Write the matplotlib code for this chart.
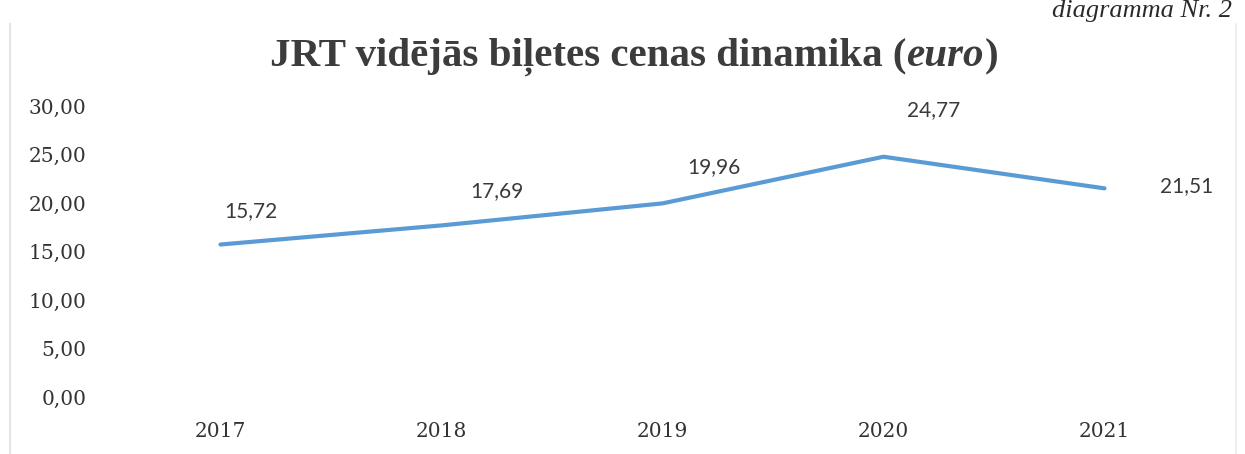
import matplotlib
matplotlib.use("Agg")
import matplotlib.pyplot as plt
from matplotlib.lines import Line2D

years = ["2017", "2018", "2019", "2020", "2021"]
prices = [15.72, 17.69, 19.96, 24.77, 21.51]
labels = ["15,72", "17,69", "19,96", "24,77", "21,51"]
yticks = [0, 5, 10, 15, 20, 25, 30]
ytick_labels = ["0,00", "5,00", "10,00", "15,00", "20,00", "25,00", "30,00"]

W, H = 1245, 454
fig = plt.figure(figsize=(W / 100, H / 100), dpi=100)
ax = fig.add_axes([110 / W, 1 - 397 / H, 1105 / W, (397 - 106) / H])

x = list(range(len(years)))
ax.plot(x, prices, color="#5B9BD5", linewidth=3.0, solid_capstyle="round", solid_joinstyle="round")
ax.set_xlim(-0.5, len(years) - 0.5)
ax.set_ylim(0, 30)
ax.set_xticks(x)
ax.set_xticklabels(years)
ax.set_yticks(yticks)
ax.set_yticklabels(ytick_labels)
for s in ax.spines.values():
    s.set_visible(False)
ax.tick_params(axis="both", length=0, colors="#3a3a3a")
ax.tick_params(axis="y", pad=17)
ax.tick_params(axis="x", pad=18)
for t in ax.get_xticklabels() + ax.get_yticklabels():
    t.set_fontfamily("DejaVu Serif")
    t.set_fontsize(14.5)
    t.set_color("#333333")

# data label offsets in pixels (style)
offsets = [(30, 33), (55, 34), (51, 36), (50, 47), (82, 2)]
for xi, yi, lab, (dx, dy) in zip(x, prices, labels, offsets):
    ax.annotate(lab, (xi, yi), xytext=(dx, dy), textcoords="offset pixels",
                ha="center", va="center", fontsize=15, family="Lato", color="#3a3a3a")

# title
TY = 1 - 57 / H
tkw = dict(fontsize=29.5, fontweight="bold", family="Liberation Serif", color="#3c3c3c", va="center")
t1 = fig.text(270 / W, TY, "JRT vidējās biļetes cenas dinamika (", ha="left", **tkw)
t2 = fig.text(0, TY, "euro", style="italic", **tkw)
t3 = fig.text(0, TY, ")", **tkw)
fig.canvas.draw()
r = fig.canvas.get_renderer()
inv = fig.transFigure.inverted()
bb1 = t1.get_window_extent(r)
t2.set_position((inv.transform((bb1.x1, bb1.y0))[0], TY))
fig.canvas.draw()
bb2 = t2.get_window_extent(r)
t3.set_position((inv.transform((bb2.x1 + 1, bb2.y0))[0], TY))
fig.canvas.draw()
bb3 = t3.get_window_extent(r)
total = bb3.x1 - bb1.x0
shift = (634 - (bb1.x0 + total / 2)) / W
for t in (t1, t2, t3):
    px, py = t.get_position()
    t.set_position((px + shift, py))

# header at top right
fig.text(1232 / W, 1.0, "diagramma Nr. 2", ha="right", va="top",
         fontsize=19, style="italic", family="Liberation Serif", color="#2a2a2a")

# faint scan border
fig.add_artist(Line2D([10 / W, 10 / W], [0, 1 - 24 / H], transform=fig.transFigure,
                      color="#e4e4e4", lw=1.5))
fig.add_artist(Line2D([1236 / W, 1236 / W], [0, 1 - 24 / H], transform=fig.transFigure,
                      color="#ececec", lw=1.2))

fig.savefig("out.png", dpi=100)
